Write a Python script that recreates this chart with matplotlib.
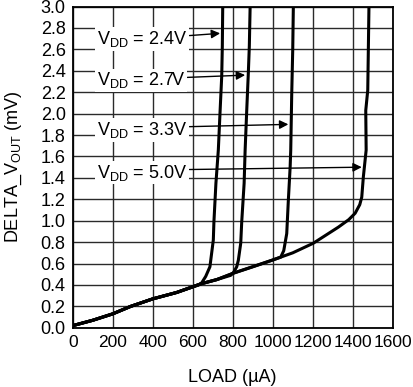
import numpy as np
from matplotlib import pyplot as plt

# curves: load (uA) vs delta Vout (mV)
load_24 = [0, 100, 200, 290, 400, 520, 630, 645, 665, 686, 703, 706, 716, 728, 737, 745, 748, 750]
dv_24 = [0.02, 0.07, 0.13, 0.20, 0.27, 0.33, 0.40, 0.42, 0.48, 0.57, 0.82, 0.99, 1.35, 1.66, 2.03, 2.35, 2.63, 3.0]

load_27 = [0, 100, 200, 290, 400, 520, 640, 720, 790, 805, 820, 828, 840, 845, 857, 862, 870, 878, 883, 887]
dv_27 = [0.02, 0.07, 0.13, 0.20, 0.27, 0.33, 0.41, 0.45, 0.49, 0.52, 0.57, 0.63, 0.79, 0.99, 1.35, 1.66, 2.03, 2.38, 2.63, 3.0]

load_33 = [0, 100, 200, 290, 400, 520, 640, 720, 803, 900, 995, 1040, 1055, 1070, 1078, 1087, 1090, 1095, 1100, 1103]
dv_33 = [0.02, 0.07, 0.13, 0.20, 0.27, 0.33, 0.41, 0.45, 0.51, 0.57, 0.63, 0.66, 0.72, 0.88, 1.19, 1.50, 1.66, 2.19, 2.60, 3.0]

load_50 = [0, 100, 200, 290, 400, 520, 640, 720, 803, 900, 995, 1100, 1203, 1253, 1328, 1380, 1412, 1435, 1445, 1453, 1467, 1465, 1475, 1481]
dv_50 = [0.02, 0.07, 0.13, 0.20, 0.27, 0.33, 0.41, 0.45, 0.51, 0.57, 0.63, 0.70, 0.79, 0.85, 0.94, 1.01, 1.07, 1.15, 1.22, 1.41, 1.66, 2.03, 2.22, 3.0]

labels = ["2.4V", "2.7V", "3.3V", "5.0V"]
arrow_tip = [(737, 2.75), (862, 2.36), (1078, 1.90), (1445, 1.50)]
text_x = 123

xticks = np.arange(0, 1601, 200)
yticks = np.arange(0, 3.01, 0.2)

plt.rc('font', family='Liberation Sans', size=13)
plt.rc('xtick', labelsize=12.5)
plt.rc('ytick', labelsize=13)

fig = plt.figure(figsize=(4.13, 3.87), dpi=100)
ax = fig.add_axes([0.176, 0.153, 0.775, 0.830])

for lx, ly in [(load_24, dv_24), (load_27, dv_27), (load_33, dv_33), (load_50, dv_50)]:
    ax.plot(lx, ly, color='k', lw=2.2, solid_capstyle='butt', zorder=3)

for lab, (tx, ty) in zip(labels, arrow_tip):
    ax.annotate("V$_{\\mathregular{DD}}$ = " + lab, xy=(tx, ty), xytext=(text_x, ty - 0.05),
                ha='left', va='center', fontsize=13, zorder=4,
                bbox=dict(boxstyle='square,pad=0.1', fc='white', ec='none'),
                arrowprops=dict(arrowstyle='-|>', color='k', lw=1, mutation_scale=13,
                                shrinkA=0, shrinkB=0, relpos=(1, 0.65)))

ax.set_xlim(0, 1600)
ax.set_ylim(0, 3.0)
ax.set_xticks(xticks)
ax.set_yticks(yticks)
ax.set_xticklabels([str(v) for v in xticks])
ax.set_yticklabels(["%.1f" % v for v in yticks])
ax.tick_params(length=0, pad=5)
ax.grid(True, color='#2a2a2a', lw=1)
ax.set_axisbelow(True)
for s in ax.spines.values():
    s.set_linewidth(1.3)

ax.set_xlabel('LOAD (µA)', labelpad=14)
ax.set_ylabel('DELTA_V$_{\\mathregular{OUT}}$ (mV)', labelpad=12)

plt.savefig('out.png', dpi=100)
